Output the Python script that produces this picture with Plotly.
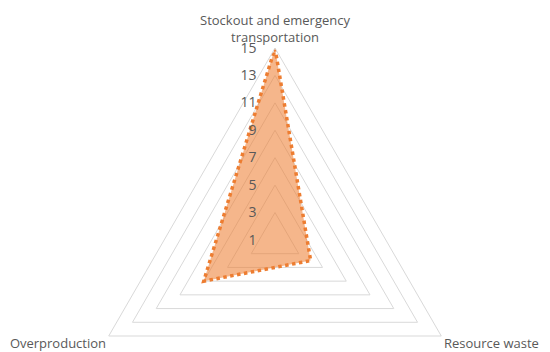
import plotly.graph_objects as go

categories = ["Stockout and emergency<br>transportation", "Resource waste", "Overproduction"]
values = [15, 4, 7]
tick_vals = [1, 3, 5, 7, 9, 11, 13, 15]

theta = categories + [categories[0]]
r = values + [values[0]]

fig = go.Figure()
fig.add_trace(go.Scatterpolar(
    r=r, theta=theta, mode="lines", fill="toself",
    fillcolor="rgba(237,125,49,0.56)",
    line=dict(color="#ED7D31", width=3.5, dash="dot"),
    showlegend=False, hoverinfo="skip",
))

fig.update_layout(
    width=550, height=432,
    margin=dict(l=83, r=83, t=48, b=0),
    paper_bgcolor="white",
    font=dict(family="Open Sans", color="#595959", size=13),
    polar=dict(
        bgcolor="white",
        gridshape="linear",
        radialaxis=dict(
            range=[1, 15], tickvals=tick_vals, angle=90, tickangle=90,
            side="counterclockwise",
            showline=False, ticks="outside", ticklen=13, tickcolor="rgba(0,0,0,0)",
            gridcolor="#D9D9D9", gridwidth=1,
            tickfont=dict(size=14, color="#595959"),
        ),
        angularaxis=dict(
            rotation=90, direction="clockwise", showgrid=False,
            showline=True, linecolor="#D9D9D9", linewidth=1, ticks="",
            tickfont=dict(size=13, color="#595959"),
        ),
    ),
)

fig.write_html(
    "out.html",
    config={"displayModeBar": False},
    post_script="document.body.style.margin='0';document.body.style.overflow='hidden';document.documentElement.style.overflow='hidden';",
)
